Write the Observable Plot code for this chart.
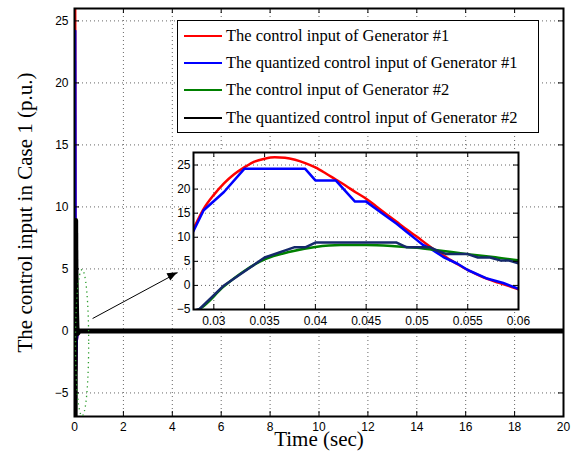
<!DOCTYPE html>
<html><head><meta charset="utf-8">
<script src="https://cdn.jsdelivr.net/npm/d3@7"></script>
<script src="https://cdn.jsdelivr.net/npm/@observablehq/plot@0.6"></script>
<style>
body{margin:0;background:#fff;}
#fig{position:relative;width:571px;height:452px;overflow:hidden;background:#fff;}
#fig svg{position:absolute;left:0;top:0;}
#legend{position:absolute;left:177px;top:20px;width:360px;height:111px;border:1.5px solid #000;background:#fff;font-family:"Liberation Serif","Times New Roman",serif;font-size:16.5px;color:#000;}
#legend .row{position:absolute;left:6px;height:20px;display:flex;align-items:center;white-space:nowrap;}
#legend .swatch{width:38px;height:2.5px;margin-right:4px;}
</style>
</head><body>
<div id="fig"></div>
<script>
// ---- data ----
const seriesNames = [
  "The control input of Generator #1",
  "The quantized control input of Generator #1",
  "The control input of Generator #2",
  "The quantized control input of Generator #2"
];
const seriesColors = ["#ff0000", "#0000ff", "#008000", "#000000"];
const insetBlackColor = "#15296b";

const redT = [0, 0.008, 0.015, 0.022, 0.025, 0.028, 0.029, 0.030, 0.031, 0.032, 0.033, 0.034, 0.035, 0.036, 0.037, 0.038, 0.039, 0.040, 0.041, 0.042, 0.043, 0.044, 0.045, 0.046, 0.047, 0.048, 0.049, 0.050, 0.051, 0.052, 0.053, 0.054, 0.055, 0.056, 0.057, 0.058, 0.059, 0.060, 0.065, 0.072, 0.08, 0.1, 0.15, 20];
const redV = [0, -2, -3.2, -2, 0.5, 11.8, 15.9, 18.8, 21.2, 23.1, 24.5, 25.7, 26.3, 26.6, 26.5, 26.1, 25.4, 24.5, 23.3, 22.0, 20.7, 19.3, 18.0, 16.4, 14.8, 13.2, 11.6, 10.1, 8.5, 7.0, 5.7, 4.4, 3.2, 2.2, 1.3, 0.6, -0.1, -0.8, -2.6, -3.2, -2.5, -0.8, 0, 0];

const blueT = [0, 0.008, 0.015, 0.022, 0.025, 0.028, 0.029, 0.031, 0.033, 0.039, 0.040, 0.042, 0.0439, 0.045, 0.0468, 0.048, 0.049, 0.050, 0.0506, 0.0513, 0.0526, 0.054, 0.055, 0.0568, 0.0585, 0.060, 0.065, 0.072, 0.08, 0.1, 0.15, 20];
const blueV = [0, -2, -3.2, -2, 0.5, 11.3, 15.6, 19.4, 24.2, 24.2, 21.8, 21.8, 17.4, 17.4, 14.6, 12.8, 11.1, 9.4, 8.4, 7.7, 5.9, 4.5, 3.2, 1.5, 0.5, -0.7, -2.6, -3.2, -2.5, -0.8, 0, 0];

const greenT = [0, 0.008, 0.016, 0.022, 0.0286, 0.031, 0.033, 0.035, 0.0375, 0.040, 0.0425, 0.045, 0.0475, 0.050, 0.052, 0.055, 0.0575, 0.060, 0.07, 0.085, 0.1, 0.13, 0.2, 20];
const greenV = [0, -5, -9, -9, -4.9, -0.2, 3.0, 5.4, 7.0, 8.0, 8.4, 8.4, 8.2, 7.8, 7.3, 6.5, 5.9, 5.2, 3.5, 1.5, 0.3, -0.2, 0, 0];

const blackT = [0, 0.008, 0.016, 0.022, 0.0286, 0.031, 0.035, 0.0379, 0.039, 0.040, 0.048, 0.049, 0.0513, 0.052, 0.0529, 0.055, 0.056, 0.0572, 0.0582, 0.059, 0.060, 0.07, 0.085, 0.1, 0.13, 0.2, 20];
const blackV = [0, -5, -9, -9, -4.9, 0, 5.8, 7.9, 7.9, 8.9, 8.9, 7.9, 7.9, 7.2, 6.5, 6.5, 5.8, 5.8, 5.2, 5.2, 4.6, 3.5, 1.5, 0.3, -0.2, 0, 0];

const xTicks = [0, 2, 4, 6, 8, 10, 12, 14, 16, 18, 20];
const yTicks = [-5, 0, 5, 10, 15, 20, 25];
const insetXTicks = [0.03, 0.035, 0.04, 0.045, 0.05, 0.055, 0.06];
const insetYTicks = [-5, 0, 5, 10, 15, 20, 25];
const xLabel = "Time (sec)";
const yLabel = "The control input in Case 1 (p.u.)";

// annotation (data units of main axes)
const arrowFrom = [0.74, 1.0];
const arrowTo = [4.22, 4.7];
const ellipseCenter = [0.33, -1.0];
const ellipseRadii = [0.27, 5.9];

// ---- build ----
const W = 571, H = 452;
const series = [[redT, redV], [blueT, blueV], [greenT, greenV], [blackT, blackV]]
  .map(([T, V], i) => T.map((t, j) => ({t, v: V[j], s: i})));

const gridStyle = {stroke: "#666", strokeWidth: 1, strokeDasharray: "1,3"};
const sansFont = "'Liberation Sans', Arial, Helvetica, sans-serif";
const serifFont = "'Liberation Serif', 'Times New Roman', serif";

const mL = 74, mR = 8, mT = 8, mB = 36;
const fw = W - mL - mR, fh = H - mT - mB;

const main = Plot.plot({
  width: W, height: H,
  marginLeft: mL, marginRight: mR, marginTop: mT, marginBottom: mB,
  style: {fontFamily: sansFont, fontSize: "12px", background: "transparent", color: "#000"},
  x: {domain: [0, 20], ticks: xTicks, tickSize: 0, tickPadding: 6, label: null},
  y: {domain: [-6.9, 26], ticks: yTicks, tickSize: 0, tickPadding: 6, label: null},
  marks: [
    Plot.ruleX(xTicks, gridStyle),
    Plot.ruleY(yTicks, gridStyle),
    Plot.line(series[0], {x: "t", y: "v", stroke: seriesColors[0], strokeWidth: 2, clip: true}),
    Plot.line(series[1], {x: "t", y: "v", stroke: seriesColors[1], strokeWidth: 2, clip: true}),
    Plot.line(series[2], {x: "t", y: "v", stroke: seriesColors[2], strokeWidth: 2, clip: true}),
    Plot.line(series[3], {x: "t", y: "v", stroke: seriesColors[3], strokeWidth: 5, clip: true}),
    Plot.link([{a: arrowFrom, b: arrowTo}], {x1: d => d.a[0], y1: d => d.a[1], x2: d => d.b[0], y2: d => d.b[1], stroke: "#000", strokeWidth: 1}),
    Plot.ruleX(xTicks, {insetTop: fh - 5, stroke: "#000"}),
    Plot.ruleX(xTicks, {insetBottom: fh - 5, stroke: "#000"}),
    Plot.ruleY(yTicks, {insetRight: fw - 5, stroke: "#000"}),
    Plot.ruleY(yTicks, {insetLeft: fw - 5, stroke: "#000"}),
    Plot.frame({stroke: "#000", strokeWidth: 2}),
    Plot.text([xLabel], {frameAnchor: "bottom", dy: 29, text: d => d, textAnchor: "middle", fontFamily: serifFont, fontSize: 21}),
    Plot.text([yLabel], {frameAnchor: "left", dx: -49, rotate: -90, text: d => d, textAnchor: "middle", fontFamily: serifFont, fontSize: 21})
  ]
});

// ellipse + filled arrow head (annotations) positioned by the main scales
{
  const sx = main.scale("x"), sy = main.scale("y");
  const svg = d3.select(main);
  const cx = sx.apply(ellipseCenter[0]), cy = sy.apply(ellipseCenter[1]);
  const rx = sx.apply(ellipseCenter[0] + ellipseRadii[0]) - cx;
  const ry = cy - sy.apply(ellipseCenter[1] + ellipseRadii[1]);
  svg.append("ellipse").attr("cx", cx).attr("cy", cy).attr("rx", rx).attr("ry", ry)
    .attr("fill", "none").attr("stroke", "#2e9e2e").attr("stroke-width", 1.3).attr("stroke-dasharray", "1.3,3.5");
  const x1 = sx.apply(arrowFrom[0]), y1 = sy.apply(arrowFrom[1]);
  const x2 = sx.apply(arrowTo[0]), y2 = sy.apply(arrowTo[1]);
  const ang = Math.atan2(y2 - y1, x2 - x1) * 180 / Math.PI;
  svg.append("path").attr("d", "M0,0L-10,-4L-10,4Z").attr("fill", "#000")
    .attr("transform", `translate(${x2},${y2}) rotate(${ang})`);
}

// inset
const iL = 193, iR = 53, iT = 152, iB = 143;
const ifw = W - iL - iR, ifh = H - iT - iB;
const insetColors = [seriesColors[0], seriesColors[1], seriesColors[2], insetBlackColor];
const inset = Plot.plot({
  width: W, height: H,
  marginLeft: iL, marginRight: iR, marginTop: iT, marginBottom: iB,
  style: {fontFamily: sansFont, fontSize: "12px", background: "transparent", color: "#000"},
  x: {domain: [0.028, 0.06], ticks: insetXTicks, tickFormat: d => String(+d.toFixed(3)), tickSize: 0, tickPadding: 7, label: null},
  y: {domain: [-5, 27.6], ticks: insetYTicks, tickSize: 0, tickPadding: 3, label: null},
  marks: [
    Plot.frame({fill: "#fff"}),
    Plot.ruleX(insetXTicks, gridStyle),
    Plot.ruleY(insetYTicks, gridStyle),
    Plot.line(series[0], {x: "t", y: "v", stroke: insetColors[0], strokeWidth: 2.5, curve: "monotone-x", clip: true}),
    Plot.line(series[1], {x: "t", y: "v", stroke: insetColors[1], strokeWidth: 2.5, clip: true}),
    Plot.line(series[2], {x: "t", y: "v", stroke: insetColors[2], strokeWidth: 2.5, curve: "monotone-x", clip: true}),
    Plot.line(series[3], {x: "t", y: "v", stroke: insetColors[3], strokeWidth: 2.5, clip: true}),
    Plot.ruleX(insetXTicks, {insetTop: ifh - 5, stroke: "#000"}),
    Plot.ruleX(insetXTicks, {insetBottom: ifh - 5, stroke: "#000"}),
    Plot.ruleY(insetYTicks, {insetRight: ifw - 5, stroke: "#000"}),
    Plot.ruleY(insetYTicks, {insetLeft: ifw - 5, stroke: "#000"}),
    Plot.frame({stroke: "#000", strokeWidth: 2})
  ]
});
inset.style.pointerEvents = "none";

const fig = document.getElementById("fig");
fig.appendChild(main);
fig.appendChild(inset);

// legend
const leg = document.createElement("div");
leg.id = "legend";
const rowTops = [5, 32, 59, 87];
seriesNames.forEach((name, i) => {
  const row = document.createElement("div");
  row.className = "row";
  row.style.top = rowTops[i] + "px";
  const sw = document.createElement("div");
  sw.className = "swatch";
  sw.style.background = seriesColors[i];
  const tx = document.createElement("span");
  tx.textContent = name;
  row.appendChild(sw); row.appendChild(tx);
  leg.appendChild(row);
});
fig.appendChild(leg);
</script>
</body></html>
